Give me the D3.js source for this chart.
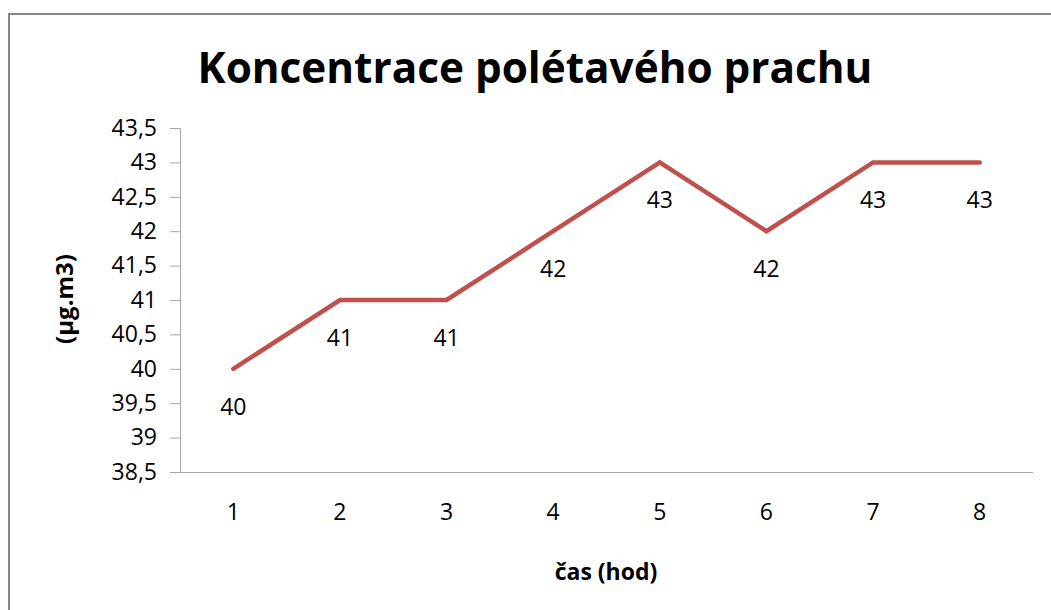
<!DOCTYPE html>
<html>
<head>
<meta charset="utf-8">
<script src="https://cdn.jsdelivr.net/npm/d3@7"></script>
<style>
    body { margin: 0; background: #fff; }
    svg text { font-family: "Open Sans", "DejaVu Sans", sans-serif; fill: #000; }
</style>
</head>
<body>
<svg id="chart" width="1051" height="610"></svg>
<script>
var title = 'Koncentrace polétavého prachu';
var xTitle = 'čas (hod)';
var yTitle = '(µg.m3)';

var hours = ['1', '2', '3', '4', '5', '6', '7', '8'];
var values = [40, 41, 41, 42, 43, 42, 43, 43];
var yTicks = [38.5, 39, 39.5, 40, 40.5, 41, 41.5, 42, 42.5, 43, 43.5];

var lineColor = '#c0504d',
    axisColor = '#a6a6a6';

var margin = {
    top: 128,
    right: 18,
    bottom: 138,
    left: 180
};

var svg = d3.select('#chart');
var width = +svg.attr('width'),
    height = +svg.attr('height');

var plotWidth = width - margin.left - margin.right,
    plotHeight = height - margin.top - margin.bottom;

// outer frame of the chart area (runs off the right and bottom edge)
svg.append('rect')
    .attr('x', 9)
    .attr('y', 14)
    .attr('width', 1080)
    .attr('height', 640)
    .style('fill', 'none')
    .style('stroke', '#868686')
    .style('stroke-width', 2);

var x = d3.scaleBand()
    .domain(hours)
    .range([0, plotWidth]);

var y = d3.scaleLinear()
    .domain([38.5, 43.5])
    .range([plotHeight, 0]);

var container = svg.append('g')
    .attr('transform', 'translate(' + margin.left + ',' + margin.top + ')');

// y axis
var yAxis = container.append('g')
    .call(d3.axisLeft(y)
        .tickValues(yTicks)
        .tickSize(10)
        .tickPadding(13)
        .tickFormat(function (d) {
            return String(d).replace('.', ',');
        }));

yAxis.selectAll('path, line').style('stroke', axisColor);
yAxis.selectAll('text')
    .style('font-size', '23px')
    .style('fill', '#000');

// x axis
var xAxis = container.append('g')
    .attr('transform', 'translate(0,' + plotHeight + ')')
    .call(d3.axisBottom(x).tickSize(0).tickSizeOuter(0).tickPadding(32));

xAxis.selectAll('text')
    .style('font-size', '23px')
    .style('fill', '#000');
xAxis.select('.domain')
    .attr('d', 'M-10,0.5H' + plotWidth)
    .style('stroke', axisColor);

// line
var line = d3.line()
    .x(function (d, i) { return x(hours[i]) + x.bandwidth() / 2; })
    .y(function (d) { return y(d); });

container.append('path')
    .datum(values)
    .attr('d', line)
    .style('fill', 'none')
    .style('stroke', lineColor)
    .style('stroke-width', 4.5)
    .style('stroke-linejoin', 'miter')
    .style('stroke-linecap', 'round');

// data labels below the points
container.selectAll('.label')
    .data(values)
    .enter().append('text')
    .attr('class', 'label')
    .attr('x', function (d, i) { return x(hours[i]) + x.bandwidth() / 2; })
    .attr('y', function (d) { return y(d) + 37; })
    .attr('text-anchor', 'middle')
    .attr('dominant-baseline', 'central')
    .style('font-size', '23px')
    .text(function (d) { return d; });

// chart title, fitted to the width seen in the original
var t = svg.append('text')
    .attr('x', 535)
    .attr('y', 83)
    .attr('text-anchor', 'middle')
    .style('font-weight', 'bold')
    .style('font-size', '40px')
    .text(title);
var tw = t.node().getComputedTextLength();
t.style('font-size', (40 * 675 / tw) + 'px');

// axis titles
svg.append('text')
    .attr('x', 606)
    .attr('y', 571)
    .attr('text-anchor', 'middle')
    .attr('dominant-baseline', 'central')
    .style('font-weight', 'bold')
    .style('font-size', '23px')
    .text(xTitle);

svg.append('text')
    .attr('transform', 'translate(63,299) rotate(-90)')
    .attr('text-anchor', 'middle')
    .attr('dominant-baseline', 'central')
    .style('font-weight', 'bold')
    .style('font-size', '24px')
    .text(yTitle);
</script>
</body>
</html>
